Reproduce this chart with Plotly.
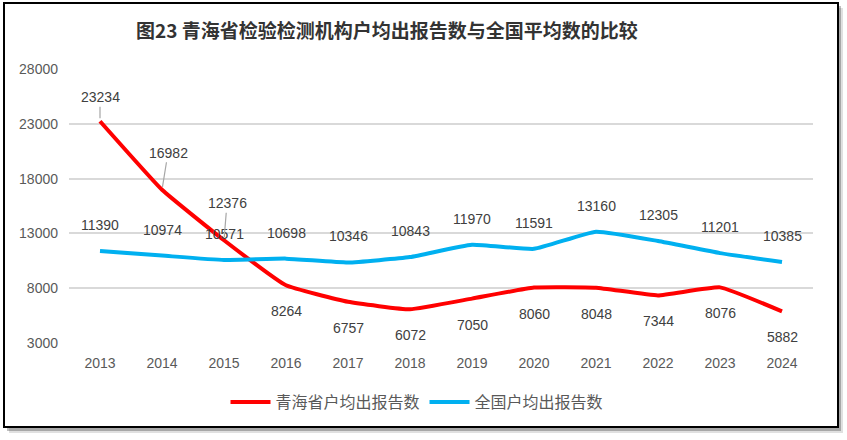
import plotly.graph_objects as go

years = ["2013", "2014", "2015", "2016", "2017", "2018", "2019", "2020", "2021", "2022", "2023", "2024"]
qinghai = [23234, 16982, 12376, 8264, 6757, 6072, 7050, 8060, 8048, 7344, 8076, 5882]
national = [11390, 10974, 10571, 10698, 10346, 10843, 11970, 11591, 13160, 12305, 11201, 10385]
y_ticks = [3000, 8000, 13000, 18000, 23000, 28000]

name_q = "青海省户均出报告数"
name_n = "全国户均出报告数"
title = "图23 青海省检验检测机构户均出报告数与全国平均数的比较"

RED = "#ff0000"
BLUE = "#00b0f0"
TXT = "#595959"
NUMFONT = "Liberation Sans"
CJK = "Noto Sans CJK SC"

fig = go.Figure()
fig.add_trace(go.Scatter(x=years, y=qinghai, name=name_q, mode="lines",
                         line=dict(color=RED, width=4, shape="spline", smoothing=0.35)))
fig.add_trace(go.Scatter(x=years, y=national, name=name_n, mode="lines",
                         line=dict(color=BLUE, width=4, shape="spline", smoothing=0.4)))

lab_font = dict(family=NUMFONT, size=14, color="#404040")
anns = []
# national labels above
for i, v in enumerate(national):
    anns.append(dict(xref="x", yref="y", x=i, y=v, text=str(v), showarrow=False, yshift=26,
                     xanchor="center", yanchor="middle", font=lab_font))
# qinghai labels
leader = {0: (0, -24), 1: (6, -37), 2: (3, -37)}
for i, v in enumerate(qinghai):
    if i in leader:
        ax, ay = leader[i]
        anns.append(dict(xref="x", yref="y", x=i, y=v, text=str(v), showarrow=True, arrowhead=0,
                         arrowwidth=1.2, arrowcolor="#a6a6a6", ax=ax, ay=ay,
                         standoff=3, xanchor="center", yanchor="middle", font=lab_font))
    else:
        anns.append(dict(xref="x", yref="y", x=i, y=v, text=str(v), showarrow=False, yshift=-26,
                         xanchor="center", yanchor="middle", font=lab_font))

# title
anns.append(dict(xref="paper", yref="paper", x=(387 - 69) / 744, y=(343 - 30) / 274,
                 text=f"<b>{title}</b>", showarrow=False, xanchor="center", yanchor="middle",
                 font=dict(family=CJK, size=19, color="#333333")))

def px(x):
    return (x - 69) / 744

def py(y):
    return (343 - y) / 274

shapes = [
    dict(type="rect", xref="paper", yref="paper", x0=px(9), x1=px(843), y0=py(8), y1=py(433),
         fillcolor="rgba(0,0,0,0.12)", line=dict(width=0), layer="below"),
    dict(type="rect", xref="paper", yref="paper", x0=px(7), x1=px(841), y0=py(6), y1=py(431),
         fillcolor="rgba(0,0,0,0.25)", line=dict(width=0), layer="below"),
    dict(type="rect", xref="paper", yref="paper", x0=px(4), x1=px(838), y0=py(3), y1=py(427),
         fillcolor="white", line=dict(color="black", width=2), layer="below"),
]

fig.update_layout(
    width=847, height=440,
    margin=dict(l=69, r=34, t=69, b=97),
    paper_bgcolor="white", plot_bgcolor="rgba(0,0,0,0)",
    annotations=anns, shapes=shapes,
    showlegend=True,
    legend=dict(orientation="h", x=(417 - 69) / 744, y=(343 - 402) / 274,
                xanchor="center", yanchor="middle", bgcolor="rgba(0,0,0,0)",
                font=dict(family=CJK, size=16, color=TXT), itemwidth=40,
                tracegroupgap=0),
    font=dict(family=NUMFONT, color=TXT),
)
fig.update_xaxes(type="category", range=[-0.5, 11.5], showgrid=False, showline=False,
                 ticks="", ticklabelstandoff=10, automargin=False,
                 tickfont=dict(family=NUMFONT, size=14, color=TXT))
fig.update_yaxes(range=[3000, 28000], tickvals=y_ticks, tickformat="d", showgrid=True,
                 gridcolor="#d9d9d9", gridwidth=1.5, zeroline=False, showline=False, ticks="",
                 ticklabelstandoff=10, automargin=False,
                 tickfont=dict(family=NUMFONT, size=14, color=TXT))

fig.write_html("out.html", config={"displayModeBar": False},
               post_script="document.body.style.margin='0';")
